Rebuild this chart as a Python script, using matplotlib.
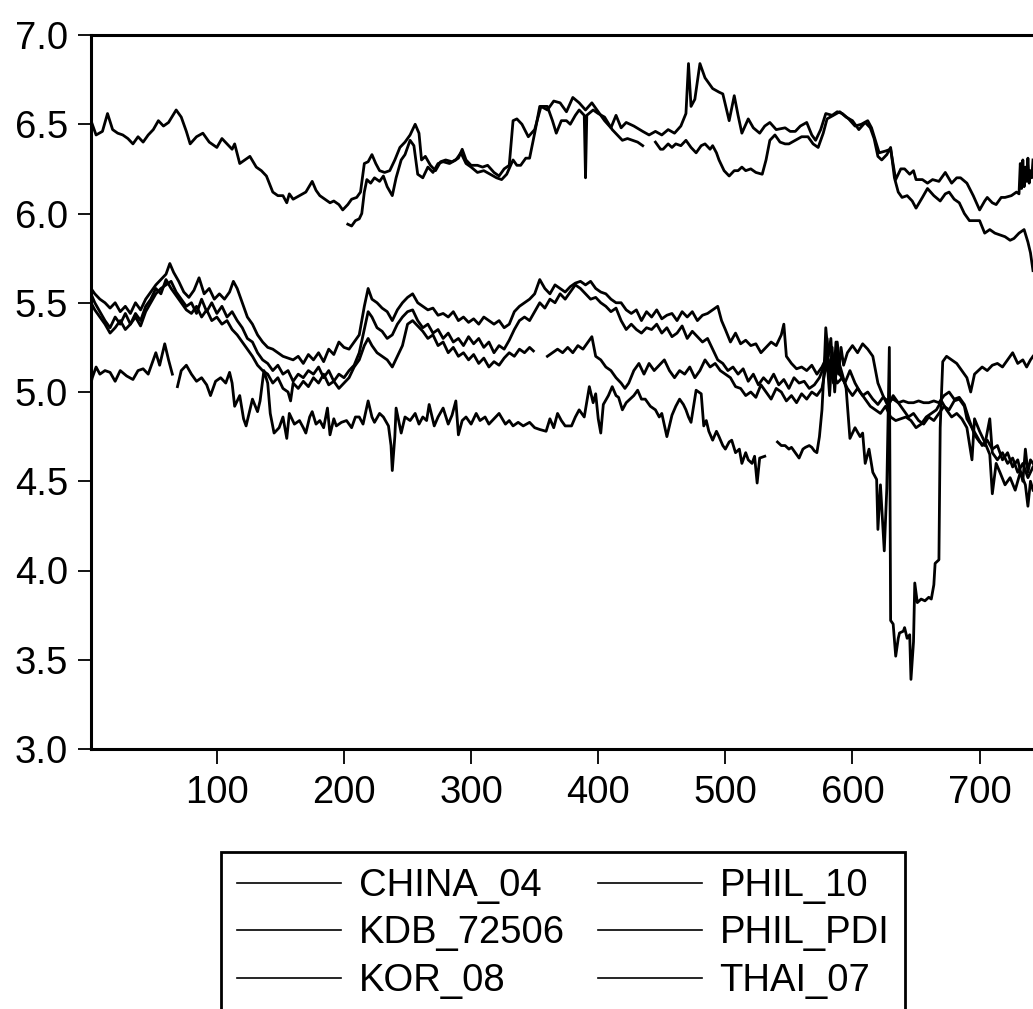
import numpy as np
import matplotlib

matplotlib.use("Agg")
import matplotlib.pyplot as plt

plt.rcParams["font.family"] = ["Liberation Sans", "DejaVu Sans"]

CHINA_04 = [
    (1, 6.52), (5, 6.44), (10, 6.46), (14, 6.56), (18, 6.47), (22, 6.45), (26, 6.44), (30, 6.42),
    (34, 6.39), (38, 6.43), (42, 6.40), (46, 6.44), (50, 6.47), (54, 6.52), (58, 6.49), (62, 6.51),
    (68, 6.58), (72, 6.54), (76, 6.46), (79, 6.39), (84, 6.43), (89, 6.45), (94, 6.40), (100, 6.37),
    (104, 6.42), (108, 6.39), (112, 6.36), (114, 6.39), (118, 6.28), (122, 6.30), (126, 6.32),
    (131, 6.26), (135, 6.24), (139, 6.21), (144, 6.12), (148, 6.10), (152, 6.10), (155, 6.06),
    (157, 6.11), (160, 6.08), (165, 6.10), (170, 6.12), (175, 6.18), (178, 6.13), (181, 6.10),
    (185, 6.08), (189, 6.06), (192, 6.07), (196, 6.05), (199, 6.02), (203, 6.05), (206, 6.08),
    (210, 6.09), (213, 6.12), (216, 6.28), (219, 6.29), (222, 6.33), (225, 6.28), (228, 6.24),
    (232, 6.23), (236, 6.24), (240, 6.30), (244, 6.37), (248, 6.40), (252, 6.44), (256, 6.50),
    (259, 6.45), (261, 6.30), (264, 6.32), (268, 6.27), (272, 6.24), (276, 6.29), (280, 6.30),
    (285, 6.29), (290, 6.31), (293, 6.36), (296, 6.30), (300, 6.27), (305, 6.27), (309, 6.26),
    (313, 6.27), (318, 6.23), (322, 6.21), (326, 6.25), (330, 6.27), (333, 6.52), (336, 6.53),
    (340, 6.50), (345, 6.43), (350, 6.47), (355, 6.60), (360, 6.58), (365, 6.63), (370, 6.62),
    (375, 6.57), (380, 6.65), (385, 6.62), (390, 6.58), (395, 6.62), (400, 6.57), (405, 6.52),
    (410, 6.48), (414, 6.55), (418, 6.48), (422, 6.51), (428, 6.49), (435, 6.46), (440, 6.44),
    (445, 6.46), (450, 6.44), (455, 6.47), (460, 6.45), (465, 6.49), (469, 6.56), (471, 6.84),
    (473, 6.60), (476, 6.64), (480, 6.84), (484, 6.76), (490, 6.70), (495, 6.68), (498, 6.67),
    (503, 6.52), (507, 6.66), (510, 6.55), (513, 6.45), (518, 6.53), (522, 6.48), (527, 6.45),
    (531, 6.49), (535, 6.51), (540, 6.47), (547, 6.48), (551, 6.46), (555, 6.46), (559, 6.49),
    (564, 6.51), (568, 6.44), (571, 6.41), (575, 6.47), (579, 6.56), (584, 6.55), (588, 6.57),
    (592, 6.56), (597, 6.53), (602, 6.49), (607, 6.50), (612, 6.52), (615, 6.48), (618, 6.41),
    (621, 6.34), (626, 6.35), (630, 6.36), (634, 6.19), (638, 6.25), (641, 6.25), (645, 6.22),
    (648, 6.24), (650, 6.19), (655, 6.19), (659, 6.17), (663, 6.19), (668, 6.18), (673, 6.23),
    (678, 6.17), (682, 6.20), (685, 6.20), (690, 6.17), (695, 6.10), (700, 6.02), (704, 6.07),
    (706, 6.09), (710, 6.06), (713, 6.05), (717, 6.09), (720, 6.09), (725, 6.10), (729, 6.12),
    (731, 6.11), (732, 6.28), (733, 6.14), (734, 6.30), (735, 6.15), (736, 6.26), (737, 6.18),
    (738, 6.31), (739, 6.17), (740, 6.24), (741, 6.20), (742, 6.30),
]

PHIL_PDI = [
    (203, 5.94), (206, 5.93), (209, 5.96), (212, 5.97), (214, 6.00), (216, 6.12), (218, 6.19),
    (221, 6.17), (224, 6.20), (228, 6.18), (231, 6.21), (234, 6.15), (238, 6.10), (241, 6.20),
    (245, 6.30), (248, 6.33), (252, 6.41), (255, 6.38), (258, 6.22), (262, 6.20), (266, 6.26),
    (270, 6.23), (274, 6.28), (278, 6.29), (283, 6.28), (288, 6.30), (292, 6.34), (296, 6.28),
    (300, 6.26), (305, 6.23), (310, 6.24), (315, 6.22), (320, 6.20), (324, 6.19), (328, 6.22),
    (333, 6.30), (336, 6.27), (339, 6.27), (343, 6.31), (346, 6.31), (350, 6.45), (354, 6.60),
    (360, 6.60), (364, 6.52), (367, 6.45), (371, 6.52), (375, 6.52), (378, 6.50), (382, 6.55),
    (385, 6.58), (389, 6.55), (390, 6.20), (391, 6.55), (396, 6.58), (400, 6.56), (405, 6.54),
    (411, 6.47), (415, 6.44), (419, 6.41), (423, 6.42), (427, 6.41), (431, 6.40), (435, 6.38),
    (437, None), (445, 6.40), (449, 6.36), (451, 6.36), (455, 6.39), (458, 6.37), (461, 6.39),
    (465, 6.38), (469, 6.41), (473, 6.37), (477, 6.34), (481, 6.38), (484, 6.39), (488, 6.36),
    (490, 6.38), (493, 6.34), (495, 6.30), (499, 6.24), (503, 6.21), (507, 6.24), (510, 6.24),
    (513, 6.26), (516, 6.24), (520, 6.25), (524, 6.23), (529, 6.22), (532, 6.30), (535, 6.41),
    (539, 6.44), (543, 6.40), (547, 6.39), (550, 6.39), (555, 6.41), (560, 6.43), (565, 6.43),
    (569, 6.39), (573, 6.37), (577, 6.45), (580, 6.53), (585, 6.55), (590, 6.57), (595, 6.54),
    (600, 6.52), (605, 6.47), (610, 6.51), (614, 6.48), (617, 6.42), (620, 6.32), (623, 6.30),
    (627, 6.33), (630, 6.37), (633, 6.20), (636, 6.12), (639, 6.09), (643, 6.10), (647, 6.07),
    (650, 6.03), (655, 6.09), (659, 6.14), (664, 6.10), (669, 6.07), (673, 6.11), (676, 6.12),
    (680, 6.08), (684, 6.06), (688, 6.00), (692, 5.96), (696, 5.96), (700, 5.96), (704, 5.89),
    (708, 5.91), (712, 5.89), (716, 5.88), (720, 5.87), (724, 5.85), (727, 5.86), (731, 5.89),
    (735, 5.91), (738, 5.84), (740, 5.78), (742, 5.68),
]

KOR_08 = [
    (1, 5.58), (4, 5.55), (8, 5.52), (12, 5.50), (16, 5.47), (20, 5.50), (24, 5.45), (28, 5.48),
    (32, 5.44), (36, 5.50), (40, 5.46), (44, 5.52), (48, 5.56), (52, 5.60), (56, 5.63), (60, 5.66),
    (63, 5.72), (66, 5.67), (70, 5.62), (74, 5.56), (78, 5.53), (82, 5.57), (86, 5.64), (90, 5.55),
    (94, 5.58), (98, 5.52), (102, 5.55), (106, 5.52), (110, 5.56), (113, 5.62), (116, 5.58),
    (120, 5.50), (124, 5.42), (128, 5.38), (132, 5.32), (136, 5.28), (140, 5.25), (144, 5.24),
    (148, 5.22), (152, 5.20), (156, 5.19), (160, 5.18), (164, 5.20), (168, 5.16), (172, 5.21),
    (176, 5.18), (180, 5.22), (184, 5.17), (188, 5.24), (192, 5.21), (196, 5.28), (200, 5.25),
    (204, 5.24), (208, 5.28), (212, 5.32), (216, 5.48), (219, 5.58), (222, 5.52), (226, 5.50),
    (230, 5.47), (234, 5.45), (238, 5.40), (242, 5.46), (246, 5.50), (250, 5.53), (254, 5.55),
    (258, 5.50), (262, 5.48), (266, 5.46), (270, 5.47), (274, 5.43), (278, 5.44), (282, 5.42),
    (286, 5.45), (290, 5.40), (294, 5.42), (298, 5.39), (302, 5.41), (306, 5.38), (310, 5.42),
    (314, 5.40), (318, 5.38), (322, 5.40), (326, 5.36), (330, 5.38), (334, 5.45), (338, 5.48),
    (342, 5.50), (346, 5.52), (350, 5.55), (354, 5.63), (358, 5.58), (362, 5.55), (366, 5.60),
    (370, 5.58), (374, 5.56), (378, 5.59), (382, 5.61), (386, 5.62), (390, 5.60), (394, 5.62),
    (398, 5.58), (402, 5.56), (406, 5.55), (410, 5.52), (414, 5.50), (418, 5.50), (422, 5.46),
    (426, 5.44), (430, 5.46), (434, 5.40), (438, 5.45), (442, 5.42), (446, 5.46), (450, 5.41),
    (454, 5.43), (458, 5.44), (462, 5.40), (466, 5.45), (470, 5.42), (474, 5.45), (478, 5.40),
    (482, 5.43), (486, 5.44), (490, 5.46), (494, 5.48), (497, 5.40), (500, 5.35), (504, 5.28),
    (508, 5.33), (512, 5.27), (516, 5.29), (520, 5.26), (524, 5.27), (528, 5.22), (532, 5.25),
    (536, 5.28), (540, 5.26), (544, 5.32), (546, 5.38), (548, 5.20), (552, 5.16), (556, 5.13),
    (560, 5.14), (564, 5.12), (568, 5.15), (572, 5.10), (576, 5.14), (580, 5.20), (584, 5.12),
    (588, 5.05), (592, 5.08), (596, 5.02), (600, 4.98), (604, 5.02), (608, 4.98), (612, 5.00),
    (616, 4.96), (620, 4.93), (624, 4.97), (628, 4.95), (632, 4.96), (636, 4.94), (640, 4.95),
    (644, 4.94), (648, 4.94), (652, 4.95), (656, 4.94), (660, 4.94), (664, 4.95), (668, 4.94),
    (672, 4.98), (676, 5.00), (680, 4.96), (684, 4.97), (688, 4.93), (692, 4.84), (696, 4.76),
    (700, 4.72), (704, 4.70), (708, 4.85), (710, 4.66), (714, 4.62), (718, 4.66), (722, 4.60),
    (726, 4.63), (730, 4.55), (734, 4.60), (738, 4.52), (742, 4.58),
]

THAI_07 = [
    (1, 5.55), (4, 5.50), (8, 5.45), (12, 5.40), (16, 5.36), (20, 5.42), (24, 5.38), (28, 5.44),
    (32, 5.38), (36, 5.42), (40, 5.37), (44, 5.45), (48, 5.50), (52, 5.55), (56, 5.58), (60, 5.60),
    (64, 5.62), (68, 5.56), (72, 5.52), (76, 5.48), (80, 5.50), (84, 5.44), (88, 5.52), (92, 5.45),
    (96, 5.50), (100, 5.44), (104, 5.48), (108, 5.42), (112, 5.45), (116, 5.40), (120, 5.36),
    (124, 5.30), (128, 5.28), (132, 5.22), (136, 5.18), (140, 5.16), (144, 5.12), (148, 5.15),
    (152, 5.10), (156, 5.12), (160, 5.06), (164, 5.10), (168, 5.08), (172, 5.12), (176, 5.10),
    (180, 5.14), (184, 5.08), (188, 5.12), (192, 5.06), (196, 5.10), (200, 5.08), (204, 5.12),
    (208, 5.15), (212, 5.22), (216, 5.35), (219, 5.45), (222, 5.42), (226, 5.36), (230, 5.34),
    (234, 5.30), (238, 5.32), (242, 5.38), (246, 5.42), (250, 5.45), (254, 5.46), (258, 5.40),
    (262, 5.36), (266, 5.38), (270, 5.33), (274, 5.35), (278, 5.30), (282, 5.33), (286, 5.28),
    (290, 5.30), (294, 5.26), (298, 5.31), (302, 5.27), (306, 5.30), (310, 5.25), (314, 5.28),
    (318, 5.22), (322, 5.26), (326, 5.24), (330, 5.29), (334, 5.35), (338, 5.40), (342, 5.42),
    (346, 5.40), (350, 5.45), (354, 5.50), (358, 5.47), (362, 5.52), (366, 5.50), (370, 5.55),
    (374, 5.52), (378, 5.56), (382, 5.60), (386, 5.58), (390, 5.55), (394, 5.52), (398, 5.53),
    (402, 5.50), (406, 5.48), (410, 5.45), (414, 5.47), (418, 5.40), (422, 5.35), (426, 5.38),
    (430, 5.35), (434, 5.33), (438, 5.36), (442, 5.35), (446, 5.38), (450, 5.33), (454, 5.36),
    (458, 5.31), (462, 5.33), (466, 5.37), (470, 5.30), (474, 5.34), (478, 5.31), (482, 5.28),
    (486, 5.30), (490, 5.24), (494, 5.18), (498, 5.16), (502, 5.12), (506, 5.14), (510, 5.10),
    (514, 5.13), (518, 5.06), (522, 5.10), (526, 5.04), (530, 5.08), (534, 5.05), (538, 5.10),
    (542, 5.04), (546, 5.07), (550, 5.02), (554, 5.08), (558, 5.05), (562, 5.06), (566, 5.02),
    (570, 5.04), (574, 5.08), (578, 5.15), (580, 5.30), (582, 5.05), (584, 5.25), (586, 5.00),
    (588, 5.22), (590, 5.10), (594, 5.05), (598, 5.12), (602, 5.05), (606, 5.00), (610, 4.96),
    (614, 4.92), (618, 4.90), (622, 4.88), (626, 4.92), (630, 4.86), (634, 4.84), (638, 4.85),
    (642, 4.86), (646, 4.84), (650, 4.80), (654, 4.82), (658, 4.86), (662, 4.88), (666, 4.90),
    (670, 4.95), (674, 4.90), (678, 4.86), (682, 4.88), (686, 4.85), (690, 4.80), (694, 4.62),
    (696, 4.85), (700, 4.78), (704, 4.72), (708, 4.65), (710, 4.43), (713, 4.60), (716, 4.55),
    (720, 4.48), (724, 4.52), (728, 4.45), (732, 4.55), (736, 4.48), (738, 4.36), (740, 4.50),
    (742, 4.45),
]

PHIL_10 = [
    (1, 5.50), (4, 5.46), (8, 5.42), (12, 5.38), (16, 5.33), (20, 5.36), (24, 5.40), (28, 5.35),
    (32, 5.38), (36, 5.44), (40, 5.40), (44, 5.48), (48, 5.52), (52, 5.58), (56, 5.55), (60, 5.63),
    (64, 5.58), (68, 5.54), (72, 5.50), (76, 5.46), (80, 5.44), (84, 5.48), (88, 5.42), (92, 5.46),
    (96, 5.40), (100, 5.42), (104, 5.38), (108, 5.40), (112, 5.35), (116, 5.32), (120, 5.28),
    (124, 5.24), (128, 5.20), (132, 5.15), (136, 5.12), (140, 5.10), (144, 5.05), (148, 5.08),
    (152, 5.02), (156, 5.00), (158, 4.95), (160, 5.05), (164, 5.02), (168, 5.06), (172, 5.03),
    (176, 5.08), (180, 5.05), (184, 5.10), (188, 5.04), (192, 5.06), (196, 5.02), (200, 5.05),
    (204, 5.08), (208, 5.14), (212, 5.18), (216, 5.26), (219, 5.30), (222, 5.26), (226, 5.22),
    (230, 5.20), (234, 5.18), (238, 5.14), (242, 5.20), (246, 5.26), (250, 5.38), (254, 5.40),
    (258, 5.37), (262, 5.34), (266, 5.30), (270, 5.32), (274, 5.26), (278, 5.28), (282, 5.22),
    (286, 5.25), (290, 5.20), (294, 5.22), (298, 5.18), (302, 5.21), (306, 5.16), (310, 5.19),
    (314, 5.14), (318, 5.17), (322, 5.15), (326, 5.19), (330, 5.22), (334, 5.20), (338, 5.24),
    (342, 5.22), (346, 5.25), (349, 5.23), (350, None), (360, 5.20), (364, 5.22), (368, 5.24),
    (372, 5.22), (376, 5.25), (380, 5.22), (384, 5.26), (388, 5.24), (392, 5.28), (395, 5.31),
    (398, 5.20), (402, 5.18), (406, 5.14), (410, 5.12), (414, 5.08), (418, 5.05), (421, 5.02),
    (424, 5.05), (428, 5.12), (432, 5.16), (436, 5.10), (440, 5.16), (444, 5.12), (448, 5.15),
    (452, 5.18), (456, 5.12), (460, 5.08), (464, 5.12), (468, 5.10), (472, 5.14), (476, 5.08),
    (480, 5.12), (484, 5.18), (488, 5.14), (492, 5.16), (496, 5.12), (500, 5.10), (504, 5.08),
    (508, 5.03), (512, 5.02), (516, 4.98), (520, 5.00), (524, 4.97), (528, 5.04), (532, 5.00),
    (536, 4.96), (540, 5.02), (544, 5.00), (548, 4.95), (552, 4.98), (556, 4.94), (560, 4.99),
    (564, 4.96), (568, 5.00), (572, 4.98), (576, 5.02), (580, 5.18), (582, 4.98), (584, 5.22),
    (586, 5.08), (588, 5.28), (590, 5.15), (592, 5.10), (595, 5.02), (598, 4.74), (602, 4.80),
    (606, 4.75), (608, 4.77), (610, 4.60), (613, 4.68), (616, 4.55), (619, 4.51), (620, 4.23),
    (622, 4.48), (625, 4.11), (627, 4.46), (629, 5.25), (630, 3.72), (632, 3.70), (634, 3.52),
    (636, 3.62), (637, 3.65), (640, 3.66), (641, 3.68), (643, 3.62), (645, 3.64), (646, 3.39),
    (648, 3.60), (649, 3.93), (651, 3.82), (654, 3.84), (657, 3.83), (660, 3.85), (662, 3.84),
    (664, 3.92), (665, 4.04), (668, 4.06), (669, 4.80), (671, 5.17), (674, 5.20), (678, 5.18),
    (682, 5.16), (686, 5.12), (690, 5.08), (693, 5.00), (696, 5.10), (699, 5.12), (702, 5.14),
    (706, 5.12), (710, 5.15), (714, 5.16), (718, 5.14), (722, 5.18), (726, 5.22), (730, 5.16),
    (734, 5.18), (737, 5.14), (740, 5.18), (742, 5.20),
]

KDB_72506 = [
    (1, 5.05), (2, 5.08), (5, 5.14), (8, 5.10), (12, 5.12), (16, 5.11), (20, 5.06), (24, 5.12),
    (29, 5.09), (34, 5.07), (38, 5.12), (42, 5.13), (46, 5.10), (50, 5.18), (52, 5.22), (55, 5.15),
    (59, 5.27), (62, 5.18), (65, 5.10), (66, None), (69, 5.03), (72, 5.12), (76, 5.15), (80, 5.10),
    (84, 5.06), (88, 5.08), (92, 5.04), (95, 4.98), (99, 5.06), (103, 5.08), (107, 5.05),
    (110, 5.11), (112, 5.05), (114, 4.92), (118, 4.98), (121, 4.85), (123, 4.81), (126, 4.90),
    (128, 4.96), (132, 4.89), (134, 4.95), (137, 5.12), (140, 5.05), (142, 4.88), (145, 4.77),
    (149, 4.80), (152, 4.86), (155, 4.74), (157, 4.88), (161, 4.82), (165, 4.84), (168, 4.80),
    (170, 4.77), (173, 4.86), (175, 4.89), (178, 4.82), (181, 4.84), (184, 4.80), (187, 4.91),
    (189, 4.76), (192, 4.85), (194, 4.81), (198, 4.83), (202, 4.84), (206, 4.80), (209, 4.86),
    (212, 4.86), (215, 4.82), (219, 4.95), (222, 4.86), (224, 4.83), (228, 4.88), (231, 4.86),
    (235, 4.81), (237, 4.70), (238, 4.56), (240, 4.75), (241, 4.91), (245, 4.77), (248, 4.86),
    (252, 4.84), (256, 4.88), (259, 4.82), (262, 4.86), (265, 4.84), (267, 4.93), (271, 4.81),
    (274, 4.86), (278, 4.91), (282, 4.82), (285, 4.87), (288, 4.95), (290, 4.76), (293, 4.84),
    (296, 4.86), (300, 4.82), (304, 4.88), (307, 4.84), (311, 4.86), (314, 4.82), (318, 4.85),
    (322, 4.88), (327, 4.82), (330, 4.84), (333, 4.81), (337, 4.83), (341, 4.81), (346, 4.83),
    (350, 4.80), (354, 4.79), (359, 4.78), (362, 4.85), (365, 4.80), (368, 4.88), (371, 4.84),
    (374, 4.81), (379, 4.81), (382, 4.86), (385, 4.90), (389, 4.86), (393, 5.03), (396, 4.94),
    (398, 4.99), (400, 4.85), (402, 4.77), (404, 4.93), (408, 4.98), (411, 5.03), (414, 4.98),
    (416, 4.97), (419, 4.90), (422, 4.94), (425, 4.96), (428, 4.98), (431, 5.01), (434, 4.96),
    (437, 4.96), (441, 4.92), (445, 4.90), (448, 4.86), (450, 4.88), (454, 4.75), (458, 4.87),
    (461, 4.92), (464, 4.96), (467, 4.93), (469, 4.90), (471, 4.86), (473, 4.83), (477, 5.01),
    (481, 4.99), (483, 4.81), (485, 4.84), (487, 4.78), (490, 4.73), (493, 4.78), (495, 4.75),
    (498, 4.70), (500, 4.68), (503, 4.72), (505, 4.73), (508, 4.66), (511, 4.68), (513, 4.60),
    (516, 4.66), (518, 4.62), (521, 4.60), (523, 4.64), (525, 4.49), (527, 4.63), (531, 4.64),
    (532, None), (541, 4.72), (544, 4.70), (547, 4.70), (550, 4.68), (552, 4.69), (555, 4.66),
    (558, 4.63), (561, 4.68), (563, 4.69), (566, 4.70), (568, 4.69), (570, 4.67), (572, 4.66),
    (574, 4.75), (576, 4.90), (578, 5.18), (579, 5.36), (581, 5.20), (583, 5.30), (585, 5.05),
    (587, 5.28), (589, 5.10), (591, 5.25), (593, 5.15), (596, 5.22), (600, 5.26), (604, 5.22),
    (608, 5.27), (612, 5.24), (616, 5.20), (620, 5.05), (624, 4.98), (628, 4.92), (632, 4.98),
    (636, 4.94), (640, 4.90), (644, 4.86), (648, 4.88), (652, 4.84), (656, 4.82), (660, 4.86),
    (664, 4.84), (668, 4.88), (672, 4.92), (676, 4.90), (680, 4.95), (684, 4.96), (688, 4.92),
    (690, 4.85), (694, 4.80), (698, 4.75), (702, 4.70), (706, 4.73), (710, 4.68), (714, 4.70),
    (718, 4.62), (722, 4.66), (726, 4.58), (730, 4.62), (734, 4.50), (736, 4.68), (738, 4.55),
    (740, 4.62), (742, 4.60),
]

LABELS = ["CHINA_04", "KDB_72506", "KOR_08", "PHIL_10", "PHIL_PDI", "THAI_07"]
SERIES = [CHINA_04, KDB_72506, KOR_08, PHIL_10, PHIL_PDI, THAI_07]
X_TICKS = [100, 200, 300, 400, 500, 600, 700]
Y_TICKS = [3.0, 3.5, 4.0, 4.5, 5.0, 5.5, 6.0, 6.5, 7.0]


def unzip(pairs):
    xs = np.array([p[0] for p in pairs], dtype=float)
    ys = np.array([np.nan if p[1] is None else p[1] for p in pairs], dtype=float)
    return xs, ys


fig = plt.figure(figsize=(10.33, 10.09), dpi=100)
ax = fig.add_axes([91 / 1033, 1 - 749 / 1009, 1 - 91 / 1033, (749 - 35) / 1009])

handles = []
for label, pairs in zip(LABELS, SERIES):
    xs, ys = unzip(pairs)
    (line,) = ax.plot(xs, ys, color="black", linewidth=2.0, label=label)
    handles.append(line)

ax.set_xlim(1, 742)
ax.set_ylim(3.0, 7.0)
ax.set_xticks(X_TICKS)
ax.set_yticks(Y_TICKS)
ax.set_yticklabels([f"{v:.1f}" for v in Y_TICKS])

ax.spines["right"].set_visible(False)
for side in ("left", "top", "bottom"):
    ax.spines[side].set_linewidth(2.2)
ax.tick_params(axis="y", direction="out", length=9.5, width=1.3, pad=7, labelsize=27.5)
ax.tick_params(axis="x", direction="out", length=11, width=1.3, pad=8, labelsize=27.5)

leg = fig.legend(
    handles=handles,
    labels=LABELS,
    ncol=2,
    loc="upper left",
    bbox_to_anchor=(221 / 1033, 1 - 852 / 1009),
    fontsize=27.5,
    frameon=True,
    fancybox=False,
    framealpha=1.0,
    handlelength=2.72,
    handletextpad=0.47,
    columnspacing=0.86,
    labelspacing=0.3,
    borderpad=0.42,
    borderaxespad=0.0,
)
leg.get_frame().set_edgecolor("black")
leg.get_frame().set_linewidth(2.0)
for h in leg.get_lines():
    h.set_linewidth(1.2)

fig.savefig("out.png", dpi=100)
plt.close(fig)
